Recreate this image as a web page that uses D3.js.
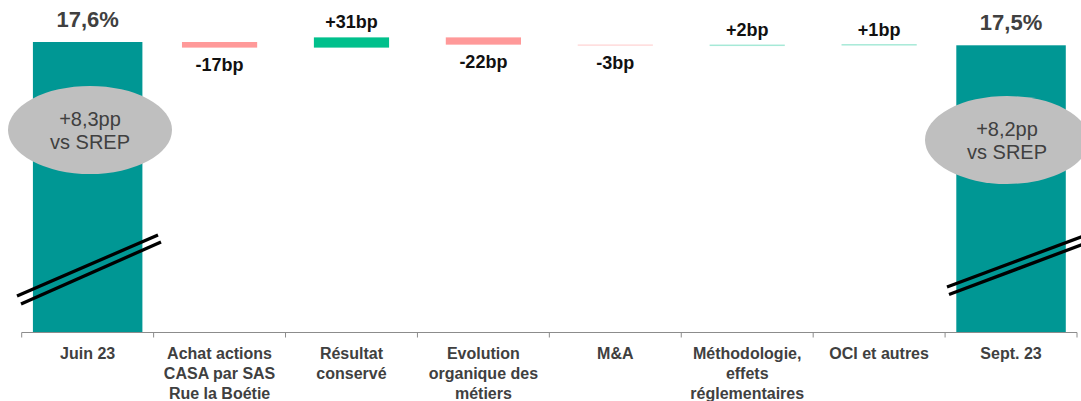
<!DOCTYPE html>
<html>
<head>
<meta charset="utf-8">
<script src="https://cdn.jsdelivr.net/npm/d3@7"></script>
<style>
  html, body { margin: 0; padding: 0; background: #ffffff; }
  svg { display: block; font-family: "Liberation Sans", Arial, Helvetica, sans-serif; }
</style>
</head>
<body>
<svg id="chart" width="1081" height="401"></svg>
<script>
// CET1 ratio bridge, June 23 -> September 23
const categories = [
  "Juin 23",
  "Achat actions CASA par SAS Rue la Boétie",
  "Résultat conservé",
  "Evolution organique des métiers",
  "M&A",
  "Méthodologie, effets réglementaires",
  "OCI et autres",
  "Sept. 23"
];
const categoryLines = [
  ["Juin 23"],
  ["Achat actions", "CASA par SAS", "Rue la Boétie"],
  ["Résultat", "conservé"],
  ["Evolution", "organique des", "métiers"],
  ["M&A"],
  ["Méthodologie,", "effets", "réglementaires"],
  ["OCI et autres"],
  ["Sept. 23"]
];
const openingRatio = 17.6;          // %
const closingRatio = 17.5;          // %
const movementsBp = [-17, 31, -22, -3, 2, 1];   // basis points
const srepBuffer = [8.3, 8.2];      // pp above SREP requirement

const W = 1081, H = 401;
const svg = d3.select("#chart");

const x = d3.scaleBand().domain(categories).range([21.7, 1077]).padding(0);
// broken value axis: the base of the chart sits well above zero
const y = d3.scaleLinear().domain([8.81, 17.6]).range([332, 42]);

const teal = "#009794", neg = "#ff9999", pos = "#00c08c";
const labelGrey = "#404040";

// build waterfall rows
const rows = [];
rows.push({ cat: categories[0], y0: y.domain()[0], y1: openingRatio, type: "total", value: openingRatio });
let level = openingRatio;
movementsBp.forEach((bp, i) => {
  const next = level + bp / 100;
  rows.push({ cat: categories[i + 1], y0: level, y1: next, type: bp < 0 ? "neg" : "pos", value: bp });
  level = next;
});
rows.push({ cat: categories[7], y0: y.domain()[0], y1: closingRatio, type: "total", value: closingRatio });

const totalW = x.bandwidth() * 0.83;
const deltaW = x.bandwidth() * 0.57;
const minH = 1.5;   // keep very small movements visible

const g = svg.append("g");

g.selectAll("rect.bar")
  .data(rows)
  .join("rect")
  .attr("class", "bar")
  .attr("x", d => x(d.cat) + (x.bandwidth() - (d.type === "total" ? totalW : deltaW)) / 2)
  .attr("width", d => d.type === "total" ? totalW : deltaW)
  .attr("y", d => {
    const h = Math.abs(y(d.y0) - y(d.y1));
    const top = y(Math.max(d.y0, d.y1));
    return h < minH ? top - (minH - h) / 2 : top;
  })
  .attr("height", d => Math.max(minH, Math.abs(y(d.y0) - y(d.y1))))
  .attr("fill", d => d.type === "total" ? teal : d.type === "neg" ? neg : pos)
  .attr("fill-opacity", d => Math.abs(y(d.y0) - y(d.y1)) < minH ? 0.35 : 1);

// value labels
const fmtPct = v => d3.format(".1f")(v).replace(".", ",") + "%";
const fmtBp = v => (v > 0 ? "+" : "-") + Math.abs(v) + "bp";

g.selectAll("text.val")
  .data(rows)
  .join("text")
  .attr("class", "val")
  .attr("x", d => x(d.cat) + x.bandwidth() / 2)
  .attr("y", d => {
    if (d.type === "total") return y(d.y1) - 15;
    if (d.type === "neg") return y(Math.min(d.y0, d.y1)) + 23;
    return y(Math.max(d.y0, d.y1)) - 9;
  })
  .attr("text-anchor", "middle")
  .attr("font-weight", "bold")
  .attr("font-size", d => d.type === "total" ? 22 : 18)
  .attr("fill", d => d.type === "total" ? labelGrey : "#111111")
  .text(d => d.type === "total" ? fmtPct(d.value) : fmtBp(d.value));

// category axis
const axisY = 332.5;
const ax = svg.append("g");
ax.append("line")
  .attr("x1", x.range()[0]).attr("x2", x.range()[1])
  .attr("y1", axisY).attr("y2", axisY)
  .attr("stroke", "#8c8c8c").attr("stroke-width", 1);
const tickXs = categories.map(c => x(c)).concat([x.range()[1]]);
ax.selectAll("line.tick")
  .data(tickXs)
  .join("line")
  .attr("class", "tick")
  .attr("x1", d => d).attr("x2", d => d)
  .attr("y1", axisY).attr("y2", axisY + 5)
  .attr("stroke", "#8c8c8c").attr("stroke-width", 1);

const catText = ax.selectAll("text.cat")
  .data(categories)
  .join("text")
  .attr("class", "cat")
  .attr("x", c => x(c) + x.bandwidth() / 2)
  .attr("y", 359)
  .attr("text-anchor", "middle")
  .attr("font-weight", "bold")
  .attr("font-size", 16)
  .attr("fill", labelGrey);
catText.each(function (c, i) {
  d3.select(this).selectAll("tspan")
    .data(categoryLines[i])
    .join("tspan")
    .attr("x", x(c) + x.bandwidth() / 2)
    .attr("dy", (t, j) => j === 0 ? 0 : 20)
    .text(t => t);
});

// axis-break marks across the total bars
const breaks = [
  { a: [17, 296], b: [158, 235] },
  { a: [21, 304], b: [161, 242] },
  { a: [947, 287], b: [1085, 235.5] },
  { a: [949, 294.5], b: [1085, 243.5] }
];
svg.selectAll("line.brk")
  .data(breaks)
  .join("line")
  .attr("class", "brk")
  .attr("x1", d => d.a[0]).attr("y1", d => d.a[1])
  .attr("x2", d => d.b[0]).attr("y2", d => d.b[1])
  .attr("stroke", "#000000").attr("stroke-width", 3.3);

// SREP buffer bubbles
const bubbles = [
  { cx: 90, cy: 130, v: srepBuffer[0] },
  { cx: 1007, cy: 140, v: srepBuffer[1] }
];
const bub = svg.selectAll("g.bub").data(bubbles).join("g").attr("class", "bub");
bub.append("ellipse")
  .attr("cx", d => d.cx).attr("cy", d => d.cy)
  .attr("rx", 82).attr("ry", 44)
  .attr("fill", "#bfbfbf");
bub.append("text")
  .attr("x", d => d.cx).attr("y", d => d.cy - 4.5)
  .attr("text-anchor", "middle").attr("font-size", 20).attr("fill", labelGrey)
  .text(d => "+" + d3.format(".1f")(d.v).replace(".", ",") + "pp");
bub.append("text")
  .attr("x", d => d.cx).attr("y", d => d.cy + 19)
  .attr("text-anchor", "middle").attr("font-size", 20).attr("fill", labelGrey)
  .text("vs SREP");
</script>
</body>
</html>
